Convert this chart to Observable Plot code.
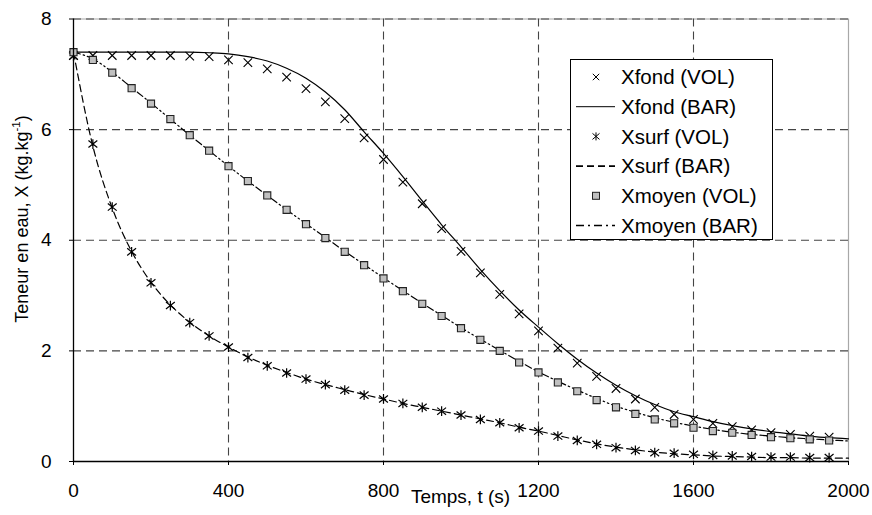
<!DOCTYPE html>
<html><head><meta charset="utf-8">
<script src="https://cdn.jsdelivr.net/npm/d3@7"></script>
<script src="https://cdn.jsdelivr.net/npm/@observablehq/plot@0.6"></script>
<style>
body{margin:0;background:#fff;}
#chart{position:relative;width:872px;height:515px;}
</style>
</head><body><div id="chart"></div>
<script>
// ---- data ----
const markerTimes = [0,50,100,150,200,250,300,350,400,450,500,550,600,650,700,750,800,850,900,950,1000,1050,1100,1150,1200,1250,1300,1350,1400,1450,1500,1550,1600,1650,1700,1750,1800,1850,1900,1950];
const lineTimes = [0,50,100,150,200,250,300,350,400,450,500,550,600,650,700,750,800,850,900,950,1000,1050,1100,1150,1200,1250,1300,1350,1400,1450,1500,1550,1600,1650,1700,1750,1800,1850,1900,1950,2000];

const xfondVol = [7.34,7.34,7.34,7.34,7.34,7.34,7.33,7.32,7.26,7.21,7.10,6.95,6.74,6.50,6.20,5.85,5.46,5.05,4.66,4.21,3.80,3.41,3.02,2.67,2.36,2.05,1.78,1.54,1.32,1.13,0.98,0.85,0.76,0.69,0.63,0.57,0.52,0.49,0.46,0.44];
const xfondBar = [7.40,7.40,7.40,7.40,7.40,7.40,7.40,7.39,7.37,7.32,7.24,7.11,6.93,6.68,6.36,5.96,5.57,5.15,4.71,4.28,3.88,3.47,3.09,2.74,2.43,2.13,1.85,1.60,1.38,1.19,1.03,0.90,0.81,0.72,0.65,0.59,0.54,0.50,0.46,0.43,0.41];
const xsurfVol = [7.33,5.74,4.60,3.79,3.23,2.82,2.51,2.27,2.07,1.88,1.73,1.60,1.49,1.39,1.29,1.20,1.13,1.05,0.98,0.91,0.84,0.76,0.70,0.61,0.55,0.46,0.38,0.31,0.25,0.20,0.16,0.15,0.13,0.11,0.10,0.09,0.08,0.08,0.07,0.07];
const xsurfBar = [7.40,5.70,4.58,3.80,3.24,2.83,2.52,2.27,2.07,1.89,1.74,1.61,1.49,1.39,1.30,1.21,1.13,1.05,0.98,0.91,0.84,0.77,0.70,0.62,0.55,0.47,0.39,0.32,0.26,0.21,0.17,0.14,0.12,0.10,0.09,0.08,0.07,0.07,0.06,0.06,0.06];
const xmoyenVol = [7.40,7.26,7.03,6.75,6.47,6.19,5.90,5.62,5.34,5.07,4.81,4.55,4.29,4.04,3.79,3.55,3.31,3.08,2.85,2.63,2.41,2.20,2.00,1.79,1.61,1.43,1.27,1.11,0.98,0.86,0.76,0.69,0.61,0.55,0.52,0.48,0.44,0.42,0.40,0.38];
const xmoyenBar = [7.40,7.28,7.04,6.76,6.48,6.19,5.90,5.62,5.34,5.07,4.81,4.55,4.30,4.05,3.80,3.56,3.32,3.09,2.86,2.64,2.42,2.21,2.01,1.81,1.62,1.45,1.29,1.14,1.00,0.89,0.79,0.71,0.64,0.58,0.53,0.49,0.46,0.43,0.41,0.39,0.37];

const xTicks = [0,400,800,1200,1600,2000];
const yTicks = [0,2,4,6,8];
const xGrid = [400,800,1200,1600];
const yGrid = [2,4,6,8];
const legendLabels = ["Xfond (VOL)","Xfond (BAR)","Xsurf (VOL)","Xsurf (BAR)","Xmoyen (VOL)","Xmoyen (BAR)"];
const xTitle = "Temps, t (s)";
const yTitle = "Teneur en eau, X (kg.kg";
const yTitleSup = "-1";

// ---- helpers ----
const toRows = (ts, vs) => ts.map((t, i) => ({t, v: vs[i]}));
const FONT = "'Liberation Sans', Arial, Helvetica, sans-serif";
const DASH_SURF = "7,4";
const DASH_MOYEN = "7,3,1.5,3,1.5,3";
const DASH_MOYEN_LEG = "8,4,2,4";

const symTimes = {draw(ctx, size){ const h = Math.sqrt(size) / 2; ctx.moveTo(-h,-h); ctx.lineTo(h,h); ctx.moveTo(-h,h); ctx.lineTo(h,-h); }};
const symAst = {draw(ctx, size){ const h = Math.sqrt(size) / 2; ctx.moveTo(-h,-h*0.8); ctx.lineTo(h,h*0.8); ctx.moveTo(-h,h*0.8); ctx.lineTo(h,-h*0.8); ctx.moveTo(0,-h*1.1); ctx.lineTo(0,h*1.1); }};

const chart = Plot.plot({
  width: 872, height: 515,
  marginLeft: 73, marginRight: 24, marginTop: 18.5, marginBottom: 54,
  style: {fontFamily: FONT, fontSize: "19px", background: "white", color: "black", overflow: "visible"},
  x: {domain: [0, 2000]},
  y: {domain: [0, 8]},
  marks: [
    Plot.ruleY([8], {stroke: "#a8a8a8", strokeWidth: 1.2}),
    Plot.ruleX([2000], {stroke: "#a8a8a8", strokeWidth: 1.2}),
    Plot.gridX(xGrid, {stroke: "#444", strokeOpacity: 1, strokeWidth: 1.1, strokeDasharray: "8,5"}),
    Plot.gridY(yGrid, {stroke: "#444", strokeOpacity: 1, strokeWidth: 1.1, strokeDasharray: "8,5"}),
    Plot.line(toRows(lineTimes, xfondBar), {x: "t", y: "v", stroke: "black", strokeWidth: 1.2, curve: "monotone-x"}),
    Plot.line(toRows(lineTimes, xsurfBar), {x: "t", y: "v", stroke: "black", strokeWidth: 1.2, strokeDasharray: DASH_SURF, curve: "monotone-x"}),
    Plot.line(toRows(lineTimes, xmoyenBar), {x: "t", y: "v", stroke: "black", strokeWidth: 1.2, strokeDasharray: DASH_MOYEN, curve: "monotone-x"}),
    Plot.dot(toRows(markerTimes, xfondVol), {x: "t", y: "v", symbol: symTimes, r: 4.8, stroke: "black", strokeWidth: 1.1, fill: "none"}),
    Plot.dot(toRows(markerTimes, xsurfVol), {x: "t", y: "v", symbol: symAst, r: 5, stroke: "black", strokeWidth: 1.2, fill: "none"}),
    Plot.dot(toRows(markerTimes, xmoyenVol), {x: "t", y: "v", symbol: "square", r: 4, stroke: "#222", strokeWidth: 1.1, fill: "#c0c0c0"}),
    Plot.ruleX([0], {stroke: "black", strokeWidth: 1.3}),
    Plot.ruleY([0], {stroke: "black", strokeWidth: 1.3}),
    Plot.axisX(xTicks, {tickSize: 4, tickPadding: 18, label: null, tickFormat: d => String(d), fontSize: 19}),
    Plot.axisY(yTicks, {tickSize: 4, tickPadding: 18, label: null, tickFormat: d => String(d), fontSize: 19})
  ]
});
document.getElementById("chart").appendChild(chart);

// ---- titles and legend ----
const svg = d3.select(chart);
svg.append("text").attr("x", 460.5).attr("y", 503).attr("text-anchor", "middle")
  .attr("font-family", FONT).attr("font-size", 19).attr("fill", "black").text(xTitle);
const yt = svg.append("text").attr("transform", "translate(28,219) rotate(-90)").attr("text-anchor", "middle")
  .attr("font-family", FONT).attr("font-size", 18).attr("fill", "black");
yt.append("tspan").text(yTitle);
yt.append("tspan").attr("font-size", 11.5).attr("dy", -8).text(yTitleSup);
yt.append("tspan").attr("dy", 8).text(")");

const lg = svg.append("g").attr("text-anchor", "start");
lg.append("rect").attr("x", 570.5).attr("y", 59.5).attr("width", 202).attr("height", 180)
  .attr("fill", "white").attr("stroke", "black").attr("stroke-width", 1);
const rowY = i => 77 + i * 29.7;
const kinds = ["times","solid","ast","dash","square","dashdot"];
kinds.forEach((k, i) => {
  const cy = rowY(i), cx = 596;
  if (k === "times") {
    lg.append("path").attr("d", `M${cx-3.2},${cy-3.2}L${cx+3.2},${cy+3.2}M${cx-3.2},${cy+3.2}L${cx+3.2},${cy-3.2}`).attr("stroke", "black").attr("stroke-width", 1);
  } else if (k === "ast") {
    lg.append("path").attr("d", `M${cx-3.5},${cy-3}L${cx+3.5},${cy+3}M${cx-3.5},${cy+3}L${cx+3.5},${cy-3}M${cx},${cy-4}L${cx},${cy+4}`).attr("stroke", "black").attr("stroke-width", 1);
  } else if (k === "square") {
    lg.append("rect").attr("x", cx-3.5).attr("y", cy-3.5).attr("width", 7).attr("height", 7).attr("fill", "#c0c0c0").attr("stroke", "#222").attr("stroke-width", 1);
  } else {
    const dash = k === "dash" ? DASH_SURF : k === "dashdot" ? DASH_MOYEN_LEG : null;
    const l = lg.append("line").attr("x1", 576).attr("x2", 615).attr("y1", cy).attr("y2", cy)
      .attr("stroke", "black").attr("stroke-width", k === "solid" ? 1 : 1.6);
    if (dash) l.attr("stroke-dasharray", dash);
  }
  lg.append("text").attr("x", 621).attr("y", cy).attr("dy", "0.36em").attr("text-anchor", "start")
    .attr("font-family", FONT).attr("font-size", 20.5).attr("fill", "black").text(legendLabels[i]);
});
</script>
</body></html>
